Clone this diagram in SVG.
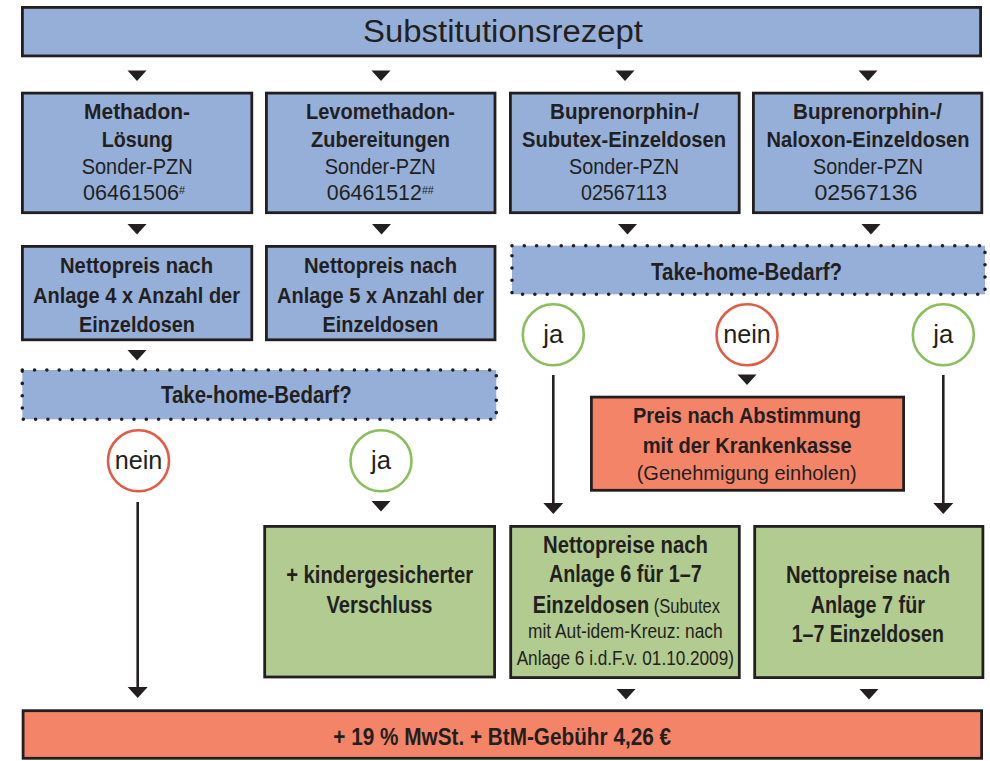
<svg xmlns="http://www.w3.org/2000/svg" xmlns:xlink="http://www.w3.org/1999/xlink" width="990" height="761" viewBox="0 0 990 761">
<defs>
<style>
text{font-family:"Liberation Sans",Arial,sans-serif;fill:#231f20;}
.b{font-weight:bold;font-size:21.5px;text-anchor:middle;}
.bl{font-weight:bold;font-size:23.5px;text-anchor:middle;}
.r{font-weight:normal;font-size:22px;text-anchor:middle;}
.s{font-weight:normal;font-size:19.5px;text-anchor:middle;}
.c{font-weight:normal;font-size:25px;text-anchor:middle;}
.sup{font-size:11px;}
.blue{fill:#95afd9;stroke:#231f20;stroke-width:2.8;}
.green{fill:#b2cb91;stroke:#231f20;stroke-width:2.8;}
.orange{fill:#f48467;stroke:#231f20;stroke-width:2.8;}
.dot{fill:#95afd9;stroke:#231f20;stroke-width:3.6;stroke-dasharray:0 12.3;stroke-linecap:round;}
.cr{fill:#ffffff;stroke:#e25b45;stroke-width:2.6;}
.cg{fill:#ffffff;stroke:#8abf5e;stroke-width:2.6;}
.ln{stroke:#231f20;stroke-width:2.6;fill:none;}
</style>
<path id="tri" d="M-9.5,0 L9.5,0 L0,10.5 Z" fill="#231f20"/>
<path id="head" d="M-10,0 L10,0 L0,11 Z" fill="#231f20"/>
</defs>

<g id="connectors">
<use xlink:href="#tri" x="137" y="70.5"/>
<use xlink:href="#tri" x="381" y="70.5"/>
<use xlink:href="#tri" x="625" y="70.5"/>
<use xlink:href="#tri" x="868" y="70.5"/>
<use xlink:href="#tri" x="137" y="224"/>
<use xlink:href="#tri" x="381.5" y="224"/>
<use xlink:href="#tri" x="627.5" y="224"/>
<use xlink:href="#tri" x="871" y="224"/>
<use xlink:href="#tri" x="137" y="350"/>
<use xlink:href="#tri" x="747" y="374.5"/>
<use xlink:href="#tri" x="381" y="501"/>
<line class="ln" x1="137.7" y1="502" x2="137.7" y2="688"/>
<use xlink:href="#head" x="137.7" y="687"/>
<line class="ln" x1="553.3" y1="375" x2="553.3" y2="504"/>
<use xlink:href="#head" x="553.3" y="503"/>
<line class="ln" x1="943.3" y1="375" x2="943.3" y2="504"/>
<use xlink:href="#head" x="943.3" y="503"/>
<use xlink:href="#tri" x="626" y="689"/>
<use xlink:href="#tri" x="869" y="689"/>
</g>

<g id="title">
<rect class="blue" x="22.4" y="7.4" width="958.2" height="48.5"/>
<text x="503" y="41.7" style="font-size:31px;text-anchor:middle" textLength="280" lengthAdjust="spacingAndGlyphs">Substitutionsrezept</text>
</g>

<g id="methadon">
<rect class="blue" x="22.4" y="93.1" width="229.4" height="119.6"/>
<text class="b" x="137" y="119.3" textLength="106" lengthAdjust="spacingAndGlyphs">Methadon-</text>
<text class="b" x="137.2" y="146.7" textLength="71" lengthAdjust="spacingAndGlyphs">Lösung</text>
<text class="r" x="137.2" y="174" textLength="111" lengthAdjust="spacingAndGlyphs">Sonder-PZN</text>
<text class="r" x="134" y="200" textLength="102" lengthAdjust="spacingAndGlyphs">06461506<tspan class="sup" dy="-6">#</tspan></text>
</g>

<g id="levomethadon">
<rect class="blue" x="266.4" y="93.1" width="228.6" height="119.6"/>
<text class="b" x="380.5" y="119.3" textLength="149" lengthAdjust="spacingAndGlyphs">Levomethadon-</text>
<text class="b" x="380.5" y="146.7" textLength="139" lengthAdjust="spacingAndGlyphs">Zubereitungen</text>
<text class="r" x="380.3" y="174" textLength="111" lengthAdjust="spacingAndGlyphs">Sonder-PZN</text>
<text class="r" x="380.3" y="200" textLength="107" lengthAdjust="spacingAndGlyphs">06461512<tspan class="sup" dy="-6">##</tspan></text>
</g>

<g id="subutex">
<rect class="blue" x="510.4" y="93.1" width="228.8" height="119.6"/>
<text class="b" x="624.5" y="119.3" textLength="149" lengthAdjust="spacingAndGlyphs">Buprenorphin-/</text>
<text class="b" x="624" y="146.7" textLength="204" lengthAdjust="spacingAndGlyphs">Subutex-Einzeldosen</text>
<text class="r" x="624" y="174" textLength="110" lengthAdjust="spacingAndGlyphs">Sonder-PZN</text>
<text class="r" x="624" y="200" textLength="86" lengthAdjust="spacingAndGlyphs">02567113</text>
</g>

<g id="naloxon">
<rect class="blue" x="753.4" y="93.1" width="228.4" height="119.6"/>
<text class="b" x="867.5" y="119.3" textLength="149" lengthAdjust="spacingAndGlyphs">Buprenorphin-/</text>
<text class="b" x="868" y="146.7" textLength="203" lengthAdjust="spacingAndGlyphs">Naloxon-Einzeldosen</text>
<text class="r" x="868" y="174" textLength="110" lengthAdjust="spacingAndGlyphs">Sonder-PZN</text>
<text class="r" x="866" y="200" textLength="103" lengthAdjust="spacingAndGlyphs">02567136</text>
</g>

<g id="netto4">
<rect class="blue" x="22.4" y="246.4" width="229.4" height="93.4"/>
<text class="b" x="136.5" y="273.3" textLength="153" lengthAdjust="spacingAndGlyphs">Nettopreis nach</text>
<text class="b" x="136.5" y="302.7" textLength="207" lengthAdjust="spacingAndGlyphs">Anlage 4 x Anzahl der</text>
<text class="b" x="137" y="331.7" textLength="116" lengthAdjust="spacingAndGlyphs">Einzeldosen</text>
</g>

<g id="netto5">
<rect class="blue" x="266.4" y="246.4" width="228.6" height="93.4"/>
<text class="b" x="380.5" y="273.3" textLength="153" lengthAdjust="spacingAndGlyphs">Nettopreis nach</text>
<text class="b" x="380.5" y="302.7" textLength="207" lengthAdjust="spacingAndGlyphs">Anlage 5 x Anzahl der</text>
<text class="b" x="380.5" y="331.7" textLength="116" lengthAdjust="spacingAndGlyphs">Einzeldosen</text>
</g>

<g id="takehome-left">
<rect class="dot" x="22.3" y="370" width="474" height="49.3"/>
<text class="b" style="font-size:23px" x="256.3" y="403.3" textLength="190.7" lengthAdjust="spacingAndGlyphs">Take-home-Bedarf?</text>
</g>

<g id="takehome-right">
<rect class="dot" x="512" y="245.7" width="473" height="48.6"/>
<text class="b" style="font-size:23px" x="746.5" y="280" textLength="191" lengthAdjust="spacingAndGlyphs">Take-home-Bedarf?</text>
</g>

<g id="nein-left">
<circle class="cr" cx="138.5" cy="460.8" r="30.5"/>
<text class="c" x="138.5" y="469.3" textLength="47.7" lengthAdjust="spacingAndGlyphs">nein</text>
</g>
<g id="ja-left">
<circle class="cg" cx="381" cy="460.8" r="30.5"/>
<text class="c" x="381" y="469.3" textLength="20" lengthAdjust="spacingAndGlyphs">ja</text>
</g>
<g id="ja-mid">
<circle class="cg" cx="553.3" cy="334.8" r="30.5"/>
<text class="c" x="553.3" y="342.5" textLength="20" lengthAdjust="spacingAndGlyphs">ja</text>
</g>
<g id="nein-right">
<circle class="cr" cx="747" cy="334.8" r="30.5"/>
<text class="c" x="747" y="342.5" textLength="47.7" lengthAdjust="spacingAndGlyphs">nein</text>
</g>
<g id="ja-right">
<circle class="cg" cx="943.3" cy="334.8" r="30.5"/>
<text class="c" x="943.3" y="342.5" textLength="20" lengthAdjust="spacingAndGlyphs">ja</text>
</g>

<g id="krankenkasse">
<rect class="orange" x="591.4" y="397.1" width="312.2" height="93.2"/>
<text class="b" x="747" y="423.3" textLength="228" lengthAdjust="spacingAndGlyphs">Preis nach Abstimmung</text>
<text class="b" x="747.2" y="452.7" textLength="209" lengthAdjust="spacingAndGlyphs">mit der Krankenkasse</text>
<text class="r" style="font-size:21px" x="746.7" y="480" textLength="220" lengthAdjust="spacingAndGlyphs">(Genehmigung einholen)</text>
</g>

<g id="verschluss">
<rect class="green" x="264.7" y="526.4" width="229.9" height="150.6"/>
<text class="bl" x="379.7" y="583.3" textLength="187" lengthAdjust="spacingAndGlyphs">+ kindergesicherter</text>
<text class="bl" x="379.5" y="613.3" textLength="106" lengthAdjust="spacingAndGlyphs">Verschluss</text>
</g>

<g id="anlage6">
<rect class="green" x="510.7" y="526.4" width="228.6" height="151.2"/>
<text class="bl" x="625.5" y="553.3" textLength="165" lengthAdjust="spacingAndGlyphs">Nettopreise nach</text>
<text class="bl" x="625.3" y="582.3" textLength="152.7" lengthAdjust="spacingAndGlyphs">Anlage 6 für 1–7</text>
<text class="bl" style="text-anchor:start" x="532.7" y="612.7" textLength="187.3" lengthAdjust="spacingAndGlyphs">Einzeldosen<tspan style="font-weight:normal;font-size:19.5px"> (Subutex</tspan></text>
<text class="s" x="625.3" y="638.3" textLength="194.7" lengthAdjust="spacingAndGlyphs">mit Aut-idem-Kreuz: nach</text>
<text class="s" x="625.3" y="665" textLength="217.3" lengthAdjust="spacingAndGlyphs">Anlage 6 i.d.F.v. 01.10.2009)</text>
</g>

<g id="anlage7">
<rect class="green" x="754.7" y="526.4" width="228.2" height="151.2"/>
<text class="bl" x="868" y="583.3" textLength="164" lengthAdjust="spacingAndGlyphs">Nettopreise nach</text>
<text class="bl" x="867.8" y="613.3" textLength="114.3" lengthAdjust="spacingAndGlyphs">Anlage 7 für</text>
<text class="bl" x="867.8" y="641.7" textLength="152.3" lengthAdjust="spacingAndGlyphs">1–7 Einzeldosen</text>
</g>

<g id="mwst">
<rect class="orange" x="23.1" y="710.7" width="958.5" height="47.6"/>
<text class="bl" style="font-size:24px" x="502.2" y="745" textLength="337.7" lengthAdjust="spacingAndGlyphs">+ 19 % MwSt. + BtM-Gebühr 4,26 €</text>
</g>
</svg>
